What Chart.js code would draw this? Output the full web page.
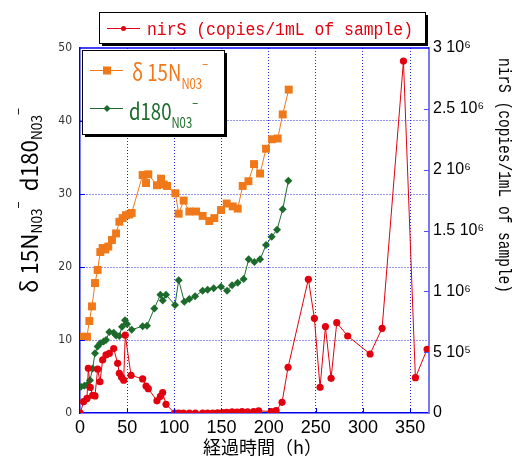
<!DOCTYPE html>
<html lang="ja">
<head>
<meta charset="UTF-8">
<title>nirS / δ15N / d180</title>
<script src="https://cdn.jsdelivr.net/npm/chart.js"></script>
<style>
  body { margin: 0; background: #fff; }
  canvas { display: block; }
</style>
</head>
<body>
<canvas id="chart" width="518" height="459"></canvas>
<script>
// nirS (copies/1mL of sample) - right axis
const nirsTime = [0.3, 3.8, 7.4, 8.8, 10.9, 13.4, 15.9, 18.7, 21.2, 24, 27.6, 31.1, 35.7, 39.9, 41.7,
  44.1, 46.3, 48, 54.1, 66.4, 70, 72.4, 81.6, 85.2, 87.6, 91.2, 100.3, 104.6, 109.6, 116,
  122.3, 130, 135.3, 140.6, 145.9, 151.2, 155.5, 161.2, 166.5, 171.8, 177.7, 184.1, 189.4, 202.6, 207.9,
  214.2, 220.6, 242.1, 248.5, 254.5, 260.2, 266.2, 272.2, 283.8, 307.5, 320.3, 342.9, 355.6, 368];
const nirsValue = [0, 93000, 120000, 367000, 210000, 145000, 140000, 360000, 257000, 436000, 477000, 490000, 530000, 408000, 326000,
  293000, 270000, 640000, 310000, 280000, 222000, 200000, 100000, 137000, 168000, 71000, 0, 0, 0, 0,
  0, 0, 0, 0, 2000, 4000, 6000, 10000, 8000, 12000, 10000, 12000, 18000, 12000, 20000,
  88000, 376000, 1099000, 778000, 211000, 710000, 285000, 742000, 633000, 485000, 696000, 2893000, 290000, 524000];

// δ15N NO3- - left axis
const d15nTime = [1.7, 7.4, 9.9, 12.7, 15.9, 18.7, 21.5, 24, 26.8, 30, 33.9, 38.2, 41.7, 45.2, 48.8,
  52.3, 54.8, 66.4, 70, 72.4, 81.6, 85.9, 88.8, 92.3, 101.1, 104.6, 109.9, 115.9, 123, 130,
  137.1, 142.4, 149.5, 155.5, 161.9, 167.2, 172.5, 178.6, 184.5, 190.9, 197.2, 203.6, 209.6, 214.9, 221.3];
const d15nValue = [10.45, 10.45, 12.6, 14.6, 17.8, 19.6, 22.05, 22.6, 22.4, 22.8, 23.7, 24.6, 26.2, 26.7, 27.1,
  27.2, 27.4, 32.6, 31.5, 32.7, 31.2, 32.1, 31.3, 31.1, 30.1, 27.3, 29.1, 27.6, 27.6, 27.0,
  26.3, 26.7, 27.8, 28.7, 28.3, 28.0, 31.1, 31.75, 34.1, 32.8, 36.2, 37.5, 37.6, 40.9, 44.3];

// d180 NO3- - left axis
const d18oTime = [1, 4.6, 7.4, 10.6, 13.4, 15.9, 18.7, 21.5, 25, 27.6, 31.1, 35.7, 38.2, 41.7, 44.5,
  47.7, 49.8, 54.8, 66.4, 71, 78.8, 85.2, 87.7, 91.2, 100.7, 104.6, 110.6, 115.9, 122, 130,
  135.3, 141.7, 149.5, 155.9, 161.2, 167.2, 173.5, 178.8, 184.9, 190.9, 197.2, 203.2, 208.9, 214.9, 220.9];
const d18oValue = [3.6, 3.75, 3.85, 4.5, 6.1, 8.2, 9.1, 9.55, 9.8, 10.0, 11.1, 11.0, 10.6, 10.55, 11.8,
  12.7, 12.2, 11.4, 11.9, 11.95, 14.3, 16.2, 15.4, 16.2, 14.8, 18.2, 15.25, 15.6, 16.0, 16.75,
  16.9, 17.1, 17.3, 16.75, 17.5, 17.85, 18.35, 21.05, 20.7, 21.05, 23.0, 24.15, 25.1, 27.9, 31.8];

// tick labels of the right axis (0 .. 3x10^6 every 5x10^5)
const rightTickValues = [0, 500000, 1000000, 1500000, 2000000, 2500000, 3000000];
const rightTickLabels = ['0', '5 10⁵', '1 10⁶', '1.5 10⁶', '2 10⁶', '2.5 10⁶', '3 10⁶'];

const RED = '#e2000f';
const ORANGE = '#f07818';
const GREEN = '#1d6b2c';
const BLUE = '#0000f0';
const JP = '"Noto Sans CJK JP", "Noto Sans", sans-serif';
const MONO = '"Liberation Mono", "DejaVu Sans Mono", monospace';

function pts(xs, ys) {
  return xs.map((x, i) => ({ x: x, y: ys[i] }));
}

// draws text pieces (main / sub / sup) one after the other, squeezed to a given width
function runsWidth(ctx, runs) {
  let w = 0;
  for (const r of runs) {
    ctx.font = r[1] + 'px ' + (r[3] || JP);
    w += ctx.measureText(r[0]).width;
  }
  return w;
}
function drawRuns(ctx, runs, x, y, target, color) {
  const w = runsWidth(ctx, runs);
  const sx = target ? target / w : 1;
  ctx.save();
  ctx.translate(x, y);
  ctx.scale(sx, 1);
  ctx.fillStyle = color;
  ctx.textBaseline = 'alphabetic';
  ctx.textAlign = 'left';
  let cx = 0;
  for (const r of runs) {
    ctx.font = r[1] + 'px ' + (r[3] || JP);
    ctx.fillText(r[0], cx, r[2]);
    cx += ctx.measureText(r[0]).width;
  }
  ctx.restore();
}

function shadowBox(ctx, x, y, w, h) {
  ctx.save();
  ctx.fillStyle = '#000';
  ctx.fillRect(x + 3, y + 3, w, h);
  ctx.fillStyle = '#fff';
  ctx.fillRect(x, y, w, h);
  ctx.strokeStyle = '#000';
  ctx.lineWidth = 1;
  ctx.strokeRect(x + 0.5, y + 0.5, w, h);
  ctx.restore();
}

const decorations = {
  id: 'decorations',
  afterDatasetsDraw(chart) {
    const { ctx, chartArea: a, scales } = chart;
    ctx.save();
    // top border
    ctx.strokeStyle = BLUE;
    ctx.lineWidth = 1.5;
    ctx.beginPath();
    ctx.moveTo(a.left, a.top);
    ctx.lineTo(a.right, a.top);
    ctx.stroke();
    // inward tick marks
    ctx.lineWidth = 1;
    ctx.beginPath();
    for (const t of scales.y.ticks) {
      if (t.value <= 0 || t.value >= 50) continue;
      const py = Math.round(scales.y.getPixelForValue(t.value)) + 0.5;
      ctx.moveTo(a.left, py); ctx.lineTo(a.left + 5, py);
    }
    for (const t of scales.x.ticks) {
      if (t.value <= 0) continue;
      const px = Math.round(scales.x.getPixelForValue(t.value)) + 0.5;
      ctx.moveTo(px, a.bottom); ctx.lineTo(px, a.bottom - 5);
    }
    ctx.stroke();
    ctx.strokeStyle = '#5050f0';
    ctx.beginPath();
    for (const t of scales.y2.ticks) {
      if (t.value <= 0 || t.value >= 3000000) continue;
      const py = Math.round(scales.y2.getPixelForValue(t.value)) + 0.5;
      ctx.moveTo(a.right, py); ctx.lineTo(a.right - 5, py);
    }
    ctx.stroke();
    ctx.restore();
  },
  afterDraw(chart) {
    const ctx = chart.ctx;

    // top legend (nirS)
    shadowBox(ctx, 99, 12, 326, 31);
    ctx.save();
    ctx.strokeStyle = RED; ctx.lineWidth = 1;
    ctx.beginPath(); ctx.moveTo(107, 28.5); ctx.lineTo(140, 28.5); ctx.stroke();
    ctx.fillStyle = RED;
    ctx.beginPath(); ctx.arc(123.5, 28.5, 2.5, 0, Math.PI * 2); ctx.fill();
    ctx.restore();
    drawRuns(ctx, [['nirS (copies/1mL of sample)', 19, 0, MONO]], 147, 35, 266, RED);

    // inner legend (δ15N / d180)
    shadowBox(ctx, 82, 50, 142, 84);
    ctx.save();
    ctx.strokeStyle = ORANGE; ctx.lineWidth = 1;
    ctx.beginPath(); ctx.moveTo(90, 70.5); ctx.lineTo(123, 70.5); ctx.stroke();
    ctx.fillStyle = ORANGE; ctx.fillRect(103, 66.5, 8, 8);
    ctx.strokeStyle = GREEN;
    ctx.beginPath(); ctx.moveTo(90, 108.5); ctx.lineTo(123, 108.5); ctx.stroke();
    ctx.fillStyle = GREEN;
    ctx.beginPath();
    ctx.moveTo(107, 105); ctx.lineTo(110.5, 108.5); ctx.lineTo(107, 112); ctx.lineTo(103.5, 108.5);
    ctx.closePath(); ctx.fill();
    ctx.restore();
    drawRuns(ctx, [['δ 15N', 23, 0], ['N03', 14, 8], ['−', 13, -12]], 132, 81, 76, ORANGE);
    drawRuns(ctx, [['d180', 23, 0], ['N03', 14, 8], ['−', 13, -12]], 129, 120, 69, GREEN);

    // left axis title (rotated)
    const lt = [['δ 15N', 23, 0], ['N03', 14, 4], ['−', 13, -15], ['  ', 23, 0],
      ['d180', 23, 0], ['N03', 14, 4], ['−', 13, -15]];
    ctx.save();
    ctx.translate(38, 293);
    ctx.rotate(-Math.PI / 2);
    drawRuns(ctx, lt, 0, 0, 185, '#000');
    ctx.restore();

    // right axis title (rotated clockwise)
    ctx.save();
    ctx.translate(499, 58);
    ctx.rotate(Math.PI / 2);
    drawRuns(ctx, [['nirS (copies/1mL of sample)', 18, 0, MONO]], 0, 0, 235, '#000');
    ctx.restore();

    // x axis title
    ctx.save();
    ctx.fillStyle = '#000';
    ctx.font = '18px ' + JP;
    ctx.textBaseline = 'middle';
    ctx.textAlign = 'left';
    ctx.fillText('経過時間（h）', 203, 447);
    ctx.restore();
  }
};

const gridDash = { display: true, color: BLUE, width: 1.5, dash: [1, 2] };

new Chart(document.getElementById('chart'), {
  type: 'scatter',
  data: {
    datasets: [
      {
        label: 'nirS (copies/1mL of sample)',
        data: pts(nirsTime, nirsValue),
        yAxisID: 'y2',
        showLine: true,
        borderColor: RED,
        backgroundColor: RED,
        borderWidth: 1,
        pointStyle: 'circle',
        pointRadius: 3.6,
        pointBorderWidth: 0
      },
      {
        label: 'δ15N',
        data: pts(d15nTime, d15nValue),
        yAxisID: 'y',
        showLine: true,
        borderColor: ORANGE,
        backgroundColor: ORANGE,
        borderWidth: 1,
        pointStyle: 'rect',
        pointRadius: 5.6,
        pointBorderWidth: 0
      },
      {
        label: 'd180',
        data: pts(d18oTime, d18oValue),
        yAxisID: 'y',
        showLine: true,
        borderColor: GREEN,
        backgroundColor: GREEN,
        borderWidth: 1,
        pointStyle: 'rectRot',
        pointRadius: 4,
        pointBorderWidth: 0
      }
    ]
  },
  options: {
    responsive: false,
    animation: false,
    devicePixelRatio: 1,
    layout: { padding: { top: 48, left: 0, right: 0, bottom: 0 } },
    plugins: { legend: { display: false }, tooltip: { enabled: false } },
    scales: {
      x: {
        type: 'linear',
        min: 0,
        max: 370,
        afterFit(s) { s.height = 46; },
        ticks: {
          stepSize: 50,
          includeBounds: false,
          color: '#000',
          padding: 4,
          maxRotation: 0,
          font: { family: 'Liberation Sans, sans-serif', size: 18 }
        },
        grid: {
          drawTicks: false,
          lineWidth: 1,
          color: c => (c.tick && c.tick.value > 0 && c.tick.value < 370) ? '#2a2ae0' : 'rgba(0,0,0,0)'
        },
        border: gridDash
      },
      y: {
        position: 'left',
        min: 0,
        max: 50,
        afterFit(s) { s.width = 80; },
        ticks: {
          stepSize: 10,
          color: '#333',
          padding: 8,
          font: { family: '"Liberation Sans Narrow", "DejaVu Sans Condensed", "Liberation Sans", sans-serif', size: 12 }
        },
        grid: {
          drawTicks: false,
          lineWidth: 1,
          color: c => (c.tick && c.tick.value > 0 && c.tick.value < 50) ? '#2a2ae0' : 'rgba(0,0,0,0)'
        },
        border: gridDash
      },
      y2: {
        position: 'right',
        min: 0,
        max: 3000000,
        afterFit(s) { s.width = 89; },
        ticks: {
          stepSize: 500000,
          color: '#000',
          padding: 4,
          font: { family: 'Liberation Sans, sans-serif', size: 16 },
          callback: v => {
            const i = rightTickValues.indexOf(v);
            return i >= 0 ? rightTickLabels[i] : '';
          }
        },
        grid: { drawOnChartArea: false, drawTicks: false },
        border: { display: true, color: '#7878f0', width: 2 }
      }
    }
  },
  plugins: [decorations]
});
</script>
</body>
</html>
